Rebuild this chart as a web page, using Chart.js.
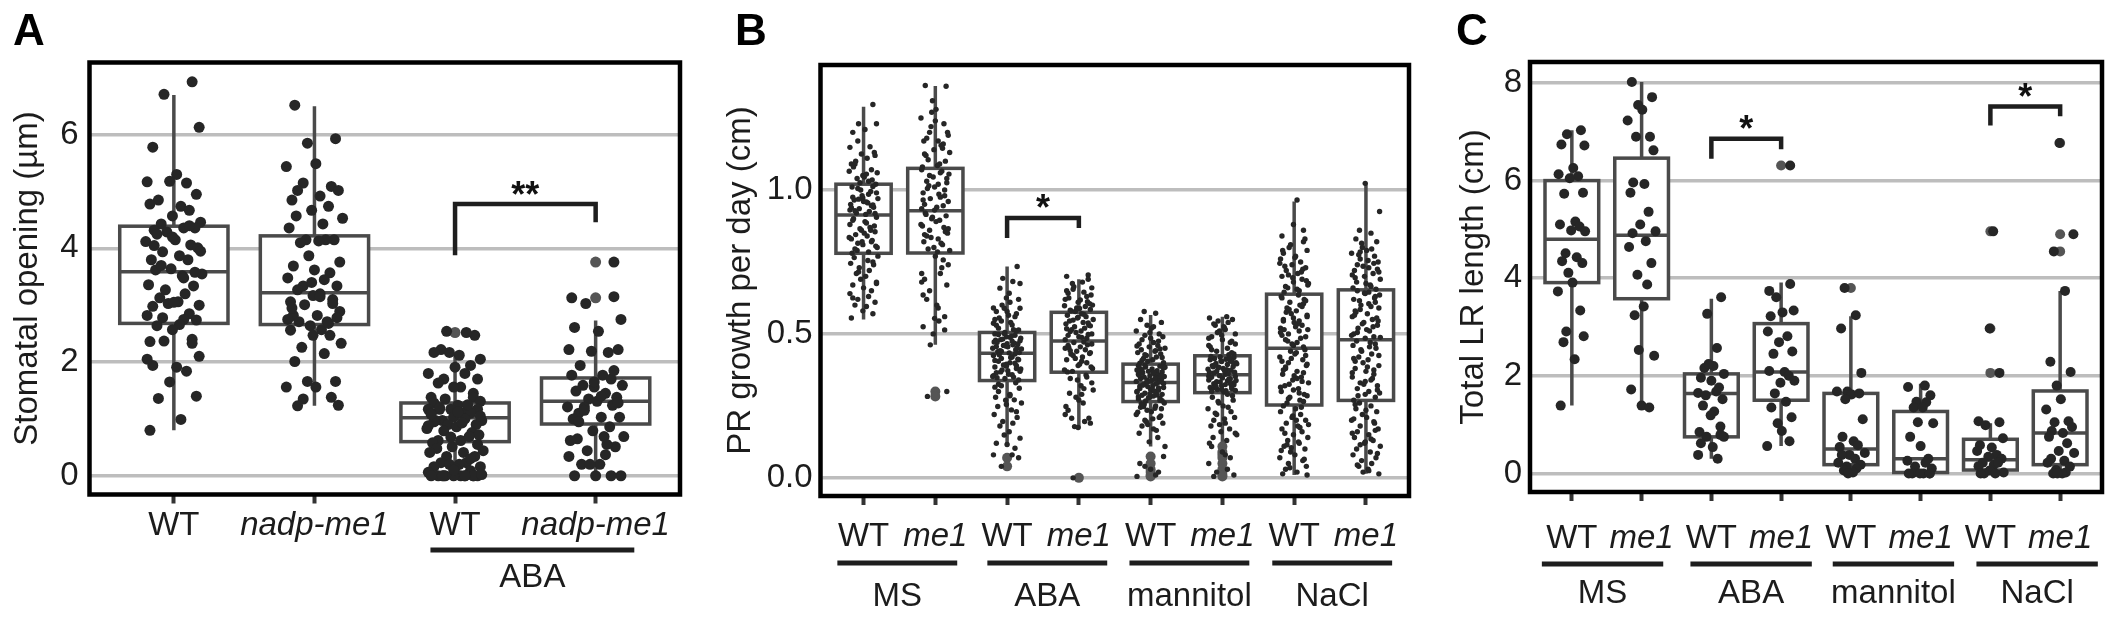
<!DOCTYPE html>
<html>
<head>
<meta charset="utf-8">
<script src="https://cdn.jsdelivr.net/npm/chart.js@4.4.1/dist/chart.umd.min.js"></script>
<style>
  body { margin: 0; background: #fff; width: 2119px; height: 620px; position: relative; overflow: hidden; }
  canvas { position: absolute; top: 0; }
</style>
</head>
<body>
<canvas id="chartA" width="700" height="620" style="left:0px"></canvas>
<canvas id="chartB" width="720" height="620" style="left:700px"></canvas>
<canvas id="chartC" width="699" height="620" style="left:1420px"></canvas>
<script>
// ---------- panel A : stomatal opening ----------
const catsA = ['WT', 'nadp-me1', 'WT', 'nadp-me1'];
const groupsA = ['ABA'];
const yTicksA = [0, 2, 4, 6];

const openWT = [6.93, 6.71, 6.13, 5.78, 5.30, 5.17, 5.15, 5.18, 4.95, 4.85, 4.74, 4.78, 4.67, 4.57, 4.46, 4.43, 4.36, 4.32, 4.36, 4.29, 4.15, 4.12, 4.06, 3.94, 4.01, 4.25, 3.87, 3.80, 3.80, 3.64, 3.55, 3.62, 3.52, 3.36, 3.34, 3.27, 3.20, 3.13, 3.06, 3.03, 3.00, 2.98, 3.05, 2.85, 2.82, 2.75, 2.78, 2.74, 2.64, 2.66, 2.57, 2.40, 2.36, 2.33, 2.37, 2.10, 1.94, 1.91, 2.05, 1.84, 1.65, 1.40, 1.36, 0.99, 0.80, 4.40, 4.20, 3.95, 3.70, 3.48, 4.05, 3.58];
const openMe1 = [6.52, 5.93, 5.85, 5.49, 5.44, 5.09, 5.15, 5.02, 5.02, 4.92, 4.85, 4.74, 4.67, 4.53, 4.57, 4.43, 4.36, 4.15, 4.15, 4.15, 4.10, 4.13, 3.87, 3.76, 3.69, 3.62, 3.57, 3.48, 3.45, 3.34, 3.34, 3.27, 3.20, 3.17, 3.10, 3.06, 3.03, 3.01, 2.89, 2.82, 2.82, 2.75, 2.71, 2.64, 2.78, 2.71, 2.57, 2.56, 2.47, 2.47, 2.33, 2.26, 2.15, 2.01, 1.66, 1.66, 1.56, 1.56, 1.38, 1.35, 1.24, 1.23, 3.15, 2.95, 2.68, 3.40];
const openWTaba = [2.47, 2.54, 2.52, 2.22, 2.12, 2.17, 2.05, 2.17, 1.91, 1.94, 1.80, 1.80, 1.70, 1.70, 1.63, 1.56, 1.56, 1.45, 1.38, 1.38, 1.35, 1.31, 1.28, 1.24, 1.17, 1.17, 1.17, 1.17, 1.17, 1.10, 1.10, 1.10, 1.03, 0.97, 0.97, 1.00, 0.97, 0.90, 0.90, 0.86, 0.83, 0.76, 0.79, 0.72, 0.62, 0.62, 0.58, 0.69, 0.51, 0.44, 0.48, 0.41, 0.41, 0.34, 0.34, 0.23, 0.23, 0.20, 0.20, 0.16, 0.16, 0.13, 0.09, 0.06, 0, 0, 0, 0, 0, 0, 0, 0, 0, 0, 1.05, 0.95, 1.12, 0.88, 1.25, 0.68, 0.55, 1.20, 0.93, 1.08, 0.30, 0.10, 0.02, 0, 0];
const openMe1aba = [3.76, 3.13, 3.15, 3.03, 2.75, 2.61, 2.54, 2.22, 2.17, 2.19, 2.22, 1.94, 1.77, 1.77, 1.70, 1.56, 1.59, 1.59, 1.45, 1.49, 1.38, 1.35, 1.31, 1.21, 1.24, 1.21, 1.03, 1.10, 1.03, 1.00, 0.86, 0.79, 0.69, 0.65, 0.69, 0.62, 0.51, 0.44, 0.55, 0.20, 0.20, 0.20, 0, 0, 0, 0, 0.34, 0.37, 1.15, 1.28, 0.95, 1.40, 1.65, 1.85];

const q1A  = [2.68, 2.66, 0.60, 0.91];
const medA = [3.59, 3.22, 1.02, 1.31];
const q3A  = [4.39, 4.22, 1.28, 1.72];
const loA  = [0.80, 1.23, 0, 0];
const hiA  = [6.70, 6.50, 2.15, 2.73];
const outA = [[], [], [2.52], [3.76, 3.13]];
// from, to, bar top, left leg end, right leg end, label
const sigA = [[3, 4, 4.78, 3.88, 4.46, '**']];

// ---------- panel B : primary root growth ----------
const catsB = ['WT', 'me1', 'WT', 'me1', 'WT', 'me1', 'WT', 'me1'];
const groupsB = ['MS', 'ABA', 'mannitol', 'NaCl'];
const yTicksB = [0, 0.5, 1.0];

const prMS_WT = [1.297, 1.23, 1.23, 1.20, 1.21, 1.148, 1.15, 1.125, 1.12, 1.10, 1.11, 1.09, 1.07, 1.05, 1.06, 1.04, 1.03, 1.08, 1.13, 1.025, 1.045, 1.065, 1.035, 1.17, 1.02, 1.09, 1.055, 1.01, 0.995, 0.98, 0.97, 0.965, 0.955, 0.95, 0.94, 0.935, 0.925, 0.92, 0.915, 1.0, 0.99, 0.975, 0.96, 0.945, 0.93, 0.985, 1.005, 0.918, 0.928, 0.958, 0.972, 0.948, 0.938, 1.012, 0.968, 0.905, 0.895, 0.89, 0.88, 0.87, 0.86, 0.855, 0.845, 0.84, 0.83, 0.82, 0.81, 0.80, 0.79, 0.785, 0.9, 0.875, 0.865, 0.85, 0.835, 0.825, 0.815, 0.805, 0.795, 0.885, 0.78, 0.86, 0.82, 0.77, 0.765, 0.755, 0.745, 0.74, 0.73, 0.72, 0.71, 0.70, 0.69, 0.68, 0.67, 0.66, 0.65, 0.64, 0.63, 0.62, 0.61, 0.60, 0.595, 0.58, 0.57, 0.555, 0.75, 0.715, 0.675, 0.625];
const prMS_me1 = [1.363, 1.36, 1.27, 1.28, 1.25, 1.23, 1.20, 1.20, 1.18, 1.17, 1.17, 1.145, 1.14, 1.13, 1.12, 1.09, 1.08, 1.10, 1.22, 1.155, 1.105, 1.085, 1.31, 1.19, 1.125, 1.24, 1.16, 1.07, 1.06, 1.05, 1.04, 1.03, 1.02, 1.01, 1.0, 0.99, 0.98, 0.97, 0.96, 0.95, 0.94, 0.935, 1.065, 1.045, 1.025, 1.005, 0.985, 0.965, 0.945, 0.93, 1.055, 1.015, 0.975, 0.92, 0.91, 0.90, 0.89, 0.88, 0.87, 0.86, 0.85, 0.84, 0.83, 0.82, 0.81, 0.80, 0.79, 0.915, 0.895, 0.875, 0.855, 0.835, 0.815, 0.795, 0.785, 0.905, 0.865, 0.845, 0.77, 0.757, 0.71, 0.71, 0.65, 0.67, 0.62, 0.59, 0.554, 0.56, 0.525, 0.514, 0.462, 0.74, 0.69, 0.60, 0.68, 0.73, 0.50, 0.30, 0.283, 0.545, 0.635];
const prABA_WT = [0.734, 0.693, 0.682, 0.659, 0.641, 0.589, 0.589, 0.578, 0.578, 0.56, 0.537, 0.531, 0.545, 0.514, 0.52, 0.61, 0.625, 0.57, 0.55, 0.51, 0.60, 0.675, 0.53, 0.565, 0.59, 0.515, 0.505, 0.62, 0.555, 0.54, 0.50, 0.495, 0.49, 0.485, 0.48, 0.475, 0.47, 0.465, 0.46, 0.455, 0.45, 0.445, 0.44, 0.435, 0.498, 0.488, 0.478, 0.468, 0.458, 0.448, 0.438, 0.492, 0.472, 0.452, 0.482, 0.462, 0.442, 0.434, 0.501, 0.476, 0.456, 0.466, 0.43, 0.425, 0.42, 0.415, 0.41, 0.405, 0.40, 0.395, 0.39, 0.385, 0.38, 0.375, 0.37, 0.365, 0.36, 0.355, 0.35, 0.345, 0.34, 0.428, 0.418, 0.408, 0.398, 0.388, 0.378, 0.368, 0.358, 0.348, 0.412, 0.392, 0.372, 0.352, 0.33, 0.32, 0.311, 0.30, 0.29, 0.28, 0.271, 0.27, 0.26, 0.248, 0.236, 0.22, 0.21, 0.196, 0.19, 0.18, 0.16, 0.149, 0.138, 0.12, 0.116, 0.103, 0.08, 0.08, 0.04, 0.07, 0.325, 0.285, 0.255, 0.23, 0.315];
const prABA_me1 = [0.705, 0.70, 0.69, 0.664, 0.66, 0.641, 0.618, 0.62, 0.595, 0.59, 0.585, 0.58, 0.68, 0.65, 0.63, 0.61, 0.60, 0.675, 0.645, 0.625, 0.605, 0.578, 0.588, 0.598, 0.612, 0.655, 0.635, 0.582, 0.57, 0.565, 0.56, 0.555, 0.55, 0.545, 0.54, 0.535, 0.53, 0.525, 0.52, 0.515, 0.51, 0.505, 0.50, 0.495, 0.49, 0.485, 0.48, 0.568, 0.548, 0.528, 0.508, 0.488, 0.558, 0.538, 0.518, 0.498, 0.47, 0.465, 0.46, 0.455, 0.45, 0.445, 0.44, 0.435, 0.43, 0.42, 0.41, 0.40, 0.39, 0.38, 0.37, 0.472, 0.452, 0.432, 0.415, 0.395, 0.375, 0.462, 0.425, 0.385, 0.442, 0.405, 0.368, 0.357, 0.34, 0.305, 0.294, 0.26, 0.248, 0.207, 0.178, 0.196, 0.207, 0.32, 0.28, 0.33, 0.235, 0.27, 0.35, 0.22, 0.31, 0.0, 0.19, 0.345, 0.29, 0.175];
const prMan_WT = [0.578, 0.572, 0.55, 0.54, 0.53, 0.52, 0.51, 0.50, 0.495, 0.49, 0.48, 0.47, 0.465, 0.46, 0.455, 0.45, 0.445, 0.44, 0.435, 0.43, 0.425, 0.42, 0.415, 0.41, 0.405, 0.40, 0.398, 0.485, 0.475, 0.458, 0.442, 0.428, 0.418, 0.408, 0.525, 0.505, 0.448, 0.39, 0.388, 0.385, 0.382, 0.38, 0.378, 0.375, 0.372, 0.37, 0.368, 0.365, 0.362, 0.36, 0.358, 0.355, 0.352, 0.35, 0.348, 0.345, 0.342, 0.34, 0.338, 0.335, 0.333, 0.392, 0.386, 0.376, 0.366, 0.356, 0.346, 0.336, 0.384, 0.364, 0.344, 0.374, 0.354, 0.33, 0.327, 0.324, 0.32, 0.317, 0.314, 0.31, 0.307, 0.304, 0.30, 0.297, 0.294, 0.29, 0.287, 0.284, 0.28, 0.277, 0.274, 0.27, 0.267, 0.328, 0.318, 0.308, 0.298, 0.288, 0.278, 0.268, 0.322, 0.302, 0.282, 0.312, 0.292, 0.26, 0.255, 0.25, 0.245, 0.24, 0.235, 0.23, 0.22, 0.21, 0.20, 0.19, 0.18, 0.17, 0.155, 0.14, 0.125, 0.109, 0.258, 0.242, 0.228, 0.215, 0.195, 0.165, 0.248, 0.205, 0.185, 0.074, 0.05, 0.03, 0.02, 0.005, 0.01, 0.04];
const prMan_me1 = [0.56, 0.555, 0.55, 0.545, 0.54, 0.53, 0.52, 0.51, 0.50, 0.49, 0.48, 0.47, 0.46, 0.45, 0.44, 0.43, 0.535, 0.515, 0.495, 0.475, 0.455, 0.435, 0.505, 0.465, 0.445, 0.525, 0.485, 0.428, 0.42, 0.418, 0.415, 0.412, 0.41, 0.407, 0.404, 0.40, 0.397, 0.394, 0.39, 0.387, 0.384, 0.38, 0.377, 0.374, 0.37, 0.367, 0.364, 0.36, 0.422, 0.416, 0.406, 0.396, 0.386, 0.376, 0.366, 0.402, 0.382, 0.362, 0.392, 0.372, 0.355, 0.352, 0.35, 0.347, 0.344, 0.34, 0.337, 0.334, 0.33, 0.327, 0.324, 0.32, 0.317, 0.314, 0.31, 0.307, 0.304, 0.30, 0.298, 0.353, 0.343, 0.333, 0.323, 0.313, 0.303, 0.348, 0.328, 0.308, 0.338, 0.318, 0.29, 0.28, 0.27, 0.26, 0.25, 0.24, 0.23, 0.22, 0.21, 0.20, 0.19, 0.18, 0.17, 0.16, 0.15, 0.14, 0.13, 0.12, 0.285, 0.265, 0.245, 0.225, 0.205, 0.185, 0.155, 0.109, 0.09, 0.07, 0.05, 0.03, 0.02, 0.01, 0.005, 0.08];
const prNa_WT = [0.965, 0.88, 0.86, 0.84, 0.82, 0.80, 0.79, 0.78, 0.77, 0.76, 0.75, 0.74, 0.73, 0.72, 0.71, 0.70, 0.69, 0.68, 0.67, 0.66, 0.65, 0.645, 0.83, 0.81, 0.765, 0.745, 0.725, 0.705, 0.685, 0.665, 0.655, 0.79, 0.715, 0.695, 0.675, 0.735, 0.635, 0.63, 0.62, 0.61, 0.60, 0.59, 0.58, 0.57, 0.56, 0.55, 0.54, 0.53, 0.52, 0.51, 0.50, 0.49, 0.48, 0.47, 0.46, 0.455, 0.625, 0.605, 0.585, 0.565, 0.545, 0.525, 0.505, 0.485, 0.465, 0.615, 0.575, 0.535, 0.495, 0.595, 0.555, 0.515, 0.475, 0.545, 0.515, 0.445, 0.44, 0.43, 0.42, 0.41, 0.40, 0.39, 0.38, 0.37, 0.36, 0.35, 0.34, 0.33, 0.32, 0.31, 0.30, 0.29, 0.28, 0.27, 0.26, 0.435, 0.415, 0.395, 0.375, 0.355, 0.335, 0.315, 0.295, 0.275, 0.425, 0.385, 0.345, 0.305, 0.265, 0.405, 0.365, 0.325, 0.285, 0.25, 0.24, 0.23, 0.22, 0.21, 0.20, 0.19, 0.18, 0.17, 0.16, 0.15, 0.14, 0.13, 0.12, 0.11, 0.10, 0.09, 0.08, 0.07, 0.06, 0.05, 0.04, 0.03, 0.02, 0.014, 0.245, 0.215, 0.185, 0.155, 0.125, 0.095, 0.065, 0.035, 0.175, 0.115, 0.2, 0.105, 0.01];
const prNa_me1 = [1.023, 0.925, 0.86, 0.85, 0.83, 0.82, 0.80, 0.79, 0.78, 0.77, 0.76, 0.75, 0.74, 0.73, 0.72, 0.71, 0.70, 0.69, 0.68, 0.67, 0.66, 0.655, 0.815, 0.795, 0.775, 0.755, 0.735, 0.715, 0.695, 0.675, 0.745, 0.705, 0.665, 0.785, 0.725, 0.65, 0.645, 0.64, 0.63, 0.62, 0.61, 0.60, 0.59, 0.58, 0.57, 0.56, 0.55, 0.54, 0.53, 0.52, 0.51, 0.50, 0.49, 0.485, 0.635, 0.615, 0.595, 0.575, 0.555, 0.535, 0.515, 0.495, 0.625, 0.585, 0.545, 0.505, 0.605, 0.565, 0.525, 0.642, 0.488, 0.475, 0.47, 0.46, 0.45, 0.44, 0.43, 0.42, 0.41, 0.40, 0.39, 0.38, 0.37, 0.36, 0.35, 0.34, 0.33, 0.32, 0.31, 0.30, 0.29, 0.28, 0.27, 0.465, 0.445, 0.425, 0.405, 0.385, 0.365, 0.345, 0.325, 0.305, 0.285, 0.455, 0.415, 0.375, 0.335, 0.295, 0.26, 0.25, 0.24, 0.23, 0.22, 0.21, 0.20, 0.19, 0.18, 0.17, 0.16, 0.15, 0.14, 0.13, 0.12, 0.11, 0.10, 0.09, 0.08, 0.07, 0.06, 0.05, 0.04, 0.03, 0.02, 0.014, 0.255, 0.235, 0.195, 0.155, 0.135, 0.115, 0.085, 0.045, 0.025, 0.125, 0.165, 0.205];

const q1B  = [0.780, 0.781, 0.338, 0.367, 0.265, 0.296, 0.253, 0.269];
const medB = [0.913, 0.928, 0.433, 0.475, 0.331, 0.358, 0.450, 0.480];
const q3B  = [1.020, 1.075, 0.505, 0.575, 0.395, 0.424, 0.638, 0.653];
const loB  = [0.550, 0.462, 0.109, 0.172, 0.109, 0.120, 0.010, 0.014];
const hiB  = [1.289, 1.361, 0.734, 0.690, 0.566, 0.560, 0.960, 1.020];
const outB = [[], [0.30, 0.283], [0.07, 0.04], [0.0], [0.074, 0.05, 0.03, 0.02, 0.01, 0.005], [0.109, 0.09, 0.08, 0.07, 0.05, 0.03, 0.02, 0.01, 0.005], [], []];
const sigB = [[3, 4, 0.903, 0.833, 0.868, '*']];

// ---------- panel C : total lateral root length ----------
const catsC = catsB;
const groupsC = groupsB;
const yTicksC = [0, 2, 4, 6, 8];

const lrMS_WT = [7.03, 6.95, 6.72, 6.74, 6.26, 6.13, 6.09, 6.05, 5.75, 5.73, 5.16, 5.10, 5.06, 4.98, 4.96, 4.51, 4.43, 4.35, 4.31, 4.11, 3.91, 3.73, 3.34, 2.91, 2.81, 2.69, 2.34, 1.39];
const lrMS_me1 = [8.02, 7.71, 7.55, 7.45, 7.23, 6.90, 6.90, 6.62, 5.96, 5.93, 5.75, 5.36, 5.10, 4.96, 4.92, 4.76, 4.64, 4.31, 4.07, 3.87, 3.24, 3.42, 2.53, 2.41, 1.72, 1.39, 1.35];
const lrABA_WT = [3.61, 3.27, 2.57, 2.16, 2.20, 2.24, 2.04, 1.96, 1.90, 1.76, 1.65, 1.68, 1.60, 1.52, 1.39, 1.27, 1.19, 0.96, 0.85, 0.79, 0.75, 0.75, 0.62, 0.54, 0.38, 0.30];
const lrABA_me1 = [6.31, 3.74, 3.88, 3.61, 3.34, 3.22, 3.30, 2.91, 2.81, 2.69, 2.50, 2.45, 2.08, 2.10, 2.00, 1.86, 1.90, 1.64, 1.47, 1.35, 1.15, 1.03, 0.87, 0.56, 0.66];
const lrMan_WT = [3.80, 3.24, 2.97, 2.06, 1.68, 1.62, 1.68, 1.64, 1.52, 1.11, 0.75, 0.66, 0.54, 0.58, 0.38, 0.42, 0.38, 0.30, 0.22, 0.18, 0.14, 0.10, 0.06, 0.02, 0];
const lrMan_me1 = [1.80, 1.77, 1.60, 1.47, 1.46, 1.35, 1.35, 1.05, 1.03, 0.75, 0.56, 0.30, 0.26, 0.22, 0.14, 0.10, 0, 0, 0, 0, 0, 0];
const lrNa_WT = [4.96, 2.97, 2.06, 1.07, 1.05, 0.99, 0.72, 0.58, 0.53, 0.46, 0.38, 0.34, 0.30, 0.22, 0.18, 0.15, 0.22, 0.06, 0.02, 0, 0, 0];
const lrNa_me1 = [6.77, 4.90, 4.55, 3.74, 2.29, 2.08, 1.80, 1.52, 1.31, 1.07, 1.05, 0.95, 0.87, 0.83, 0.75, 0.62, 0.46, 0.42, 0.30, 0.26, 0.22, 0.14, 0.07, 0.02, 0, 0, 0];

const q1C  = [3.91, 3.58, 0.75, 1.50, 0.18, 0.02, 0.07, 0.18];
const medC = [4.80, 4.88, 1.64, 2.08, 0.50, 0.30, 0.28, 0.83];
const q3C  = [6.00, 6.46, 2.04, 3.07, 1.64, 1.27, 0.70, 1.69];
const loC  = [1.39, 1.33, 0.30, 0.56, 0, 0, 0, 0];
const hiC  = [7.03, 8.02, 3.58, 3.91, 3.22, 1.84, 1.03, 3.74];
const outC = [[], [], [], [6.31], [3.80], [], [4.96, 2.97, 2.06], [6.77, 4.90, 4.55]];
const sigC = [[3, 4, 6.86, 6.45, 6.64, '*'], [7, 8, 7.52, 7.13, 7.32, '*']];

// horizontal spread of the jittered dots (category units)
const JITTER = [0.13, -0.07, 0.18, -0.15, 0.02, -0.19, 0.09, -0.03, 0.16, -0.11, 0.05, -0.17, 0.11, -0.01, 0.19, -0.09, 0.07, -0.14, 0.15, -0.05, 0.01, -0.2, 0.12, -0.08, 0.17, -0.12, 0.04, -0.16, 0.1, -0.02, 0.2, -0.13, 0.06, -0.18, 0.14, -0.06, 0.08, -0.1, 0.03, -0.04, 0.18, -0.15, 0.0, 0.11, -0.19, 0.07, -0.08, 0.16, -0.12, 0.04, -0.01, 0.13, -0.17];
const BOX_HALF = 0.385;
const FONT = '"Liberation Sans", Arial, sans-serif';
const FS = 33;
const INK = '#1c1c1c';

Chart.defaults.font.family = FONT;
Chart.defaults.color = INK;

function jittered(groups) {
  const pts = [];
  groups.forEach((vals, g) => vals.forEach((v, i) => {
    pts.push({ x: g + 1 + JITTER[(i + g * 17) % JITTER.length], y: v });
  }));
  return pts;
}

function centred(groups) {
  const pts = [];
  groups.forEach((vals, g) => vals.forEach(v => pts.push({ x: g + 1, y: v })));
  return pts;
}

// boxes, frame, significance brackets, treatment bars and panel letter
function decor(p) {
  return {
    id: 'decor',
    beforeDatasetsDraw(chart) {
      const { ctx, scales: { x, y } } = chart;
      const hw = x.getPixelForValue(1 + BOX_HALF) - x.getPixelForValue(1);
      ctx.save();
      ctx.strokeStyle = '#4a4a4a';
      ctx.lineWidth = 3.5;
      p.q1.forEach((q1, i) => {
        const cx = x.getPixelForValue(i + 1);
        const top = y.getPixelForValue(p.q3[i]);
        const bot = y.getPixelForValue(q1);
        ctx.beginPath();
        ctx.moveTo(cx, y.getPixelForValue(p.hi[i]));
        ctx.lineTo(cx, top);
        ctx.moveTo(cx, bot);
        ctx.lineTo(cx, y.getPixelForValue(p.lo[i]));
        ctx.stroke();
        ctx.fillStyle = '#fff';
        ctx.fillRect(cx - hw, top, 2 * hw, bot - top);
        ctx.strokeRect(cx - hw, top, 2 * hw, bot - top);
        const m = y.getPixelForValue(p.med[i]);
        ctx.beginPath();
        ctx.moveTo(cx - hw, m);
        ctx.lineTo(cx + hw, m);
        ctx.stroke();
      });
      ctx.restore();
    },
    afterDraw(chart) {
      const { ctx, chartArea: a, scales: { x, y } } = chart;
      ctx.save();
      ctx.strokeStyle = '#000';
      ctx.lineWidth = 4.5;
      ctx.strokeRect(a.left, a.top, a.right - a.left, a.bottom - a.top);

      ctx.strokeStyle = '#1e1e1e';
      ctx.fillStyle = '#111';
      ctx.lineWidth = 4.5;
      ctx.textAlign = 'center';
      ctx.textBaseline = 'alphabetic';
      ctx.font = 'bold 36px ' + FONT;
      p.sig.forEach(([from, to, top, left, right, label]) => {
        const x1 = x.getPixelForValue(from), x2 = x.getPixelForValue(to);
        const yt = y.getPixelForValue(top);
        ctx.beginPath();
        ctx.moveTo(x1, y.getPixelForValue(left));
        ctx.lineTo(x1, yt);
        ctx.lineTo(x2, yt);
        ctx.lineTo(x2, y.getPixelForValue(right));
        ctx.stroke();
        ctx.fillText(label, (x1 + x2) / 2, yt - 18 + 0.57 * 36);
      });

      ctx.font = FS + 'px ' + FONT;
      p.groups.forEach((label, k) => {
        const [c, w] = p.spans[k];
        const xc = x.getPixelForValue(c);
        const half = x.getPixelForValue(c + w / 2) - xc;
        ctx.fillStyle = '#1e1e1e';
        ctx.fillRect(xc - half, a.bottom + p.barDy - 2.5, 2 * half, 5);
        ctx.fillStyle = INK;
        ctx.fillText(label, xc, a.bottom + p.groupDy);
      });

      ctx.textAlign = 'left';
      ctx.fillStyle = '#000';
      ctx.font = 'bold 44px ' + FONT;
      ctx.fillText(p.letter, p.letterX, 45);
      ctx.restore();
    }
  };
}

function panel(id, p) {
  const canvas = document.getElementById(id);
  const W = canvas.width, H = canvas.height;
  return new Chart(canvas, {
    type: 'scatter',
    data: {
      datasets: [
        { data: jittered(p.points), pointRadius: p.r, pointHoverRadius: p.r, pointBackgroundColor: '#262626', pointBorderWidth: 0 },
        { data: centred(p.out), pointRadius: p.rOut, pointHoverRadius: p.rOut, pointBackgroundColor: '#555555', pointBorderWidth: 0 }
      ]
    },
    options: {
      responsive: false,
      animation: false,
      events: [],
      layout: { padding: { top: p.area.top, right: W - p.area.right, bottom: 0, left: 0 } },
      plugins: { legend: { display: false }, tooltip: { enabled: false } },
      scales: {
        x: {
          type: 'linear',
          min: 0.4,
          max: p.cats.length + 0.6,
          afterFit: s => { s.height = H - p.area.bottom; },
          afterBuildTicks: s => { s.ticks = p.cats.map((c, i) => ({ value: i + 1 })); },
          border: { display: false },
          grid: { drawOnChartArea: false, drawTicks: true, tickLength: 9, tickWidth: 4, tickColor: '#333' },
          ticks: {
            padding: p.xPad,
            autoSkip: false,
            maxRotation: 0,
            color: INK,
            callback: (v, i) => p.cats[i],
            font: ctx => ({ size: FS, lineHeight: 1, style: p.cats[ctx.index] === 'WT' ? 'normal' : 'italic' })
          }
        },
        y: {
          min: p.yMin,
          max: p.yMax,
          afterFit: s => { s.width = p.area.left; },
          afterBuildTicks: s => { s.ticks = p.yTicks.map(v => ({ value: v })); },
          border: { display: false },
          grid: { color: '#bdbdbd', lineWidth: 3.5, drawTicks: false },
          ticks: { padding: p.yPad, color: INK, font: { size: FS }, callback: v => p.fmt(v) },
          title: { display: true, text: p.title, color: INK, font: { size: FS, lineHeight: 1 }, padding: { top: p.titlePad, bottom: 0 } }
        }
      }
    },
    plugins: [decor(p)]
  });
}

panel('chartA', {
  letter: 'A', letterX: 13,
  cats: catsA, groups: groupsA, spans: [[3.55, 1.45]],
  points: [openWT, openMe1, openWTaba, openMe1aba], out: outA,
  q1: q1A, med: medA, q3: q3A, lo: loA, hi: hiA, sig: sigA,
  yMin: -0.33, yMax: 7.27, yTicks: yTicksA, fmt: v => String(v),
  title: 'Stomatal opening (µm)',
  area: { left: 89.5, right: 680, top: 62.5, bottom: 494.5 },
  r: 5.5, rOut: 5.5, xPad: 6, yPad: 11, titlePad: 11, barDy: 55.5, groupDy: 92.5
});

panel('chartB', {
  letter: 'B', letterX: 35,
  cats: catsB, groups: groupsB, spans: [[1.47, 1.67], [3.56, 1.67], [5.54, 1.67], [7.53, 1.67]],
  points: [prMS_WT, prMS_me1, prABA_WT, prABA_me1, prMan_WT, prMan_me1, prNa_WT, prNa_me1], out: outB,
  q1: q1B, med: medB, q3: q3B, lo: loB, hi: hiB, sig: sigB,
  yMin: -0.063, yMax: 1.434, yTicks: yTicksB, fmt: v => v.toFixed(1),
  title: 'PR growth per day (cm)',
  area: { left: 120.5, right: 709, top: 65, bottom: 496 },
  r: 2.7, rOut: 5, xPad: 15.5, yPad: 8, titlePad: 24, barDy: 67, groupDy: 110
});

panel('chartC', {
  letter: 'C', letterX: 36,
  cats: catsC, groups: groupsC, spans: [[1.44, 1.74], [3.57, 1.74], [5.61, 1.74], [7.67, 1.74]],
  points: [lrMS_WT, lrMS_me1, lrABA_WT, lrABA_me1, lrMan_WT, lrMan_me1, lrNa_WT, lrNa_me1], out: outC,
  q1: q1C, med: medC, q3: q3C, lo: loC, hi: hiC, sig: sigC,
  yMin: -0.38, yMax: 8.43, yTicks: yTicksC, fmt: v => String(v),
  title: 'Total LR length (cm)',
  area: { left: 110, right: 682, top: 62, bottom: 492 },
  r: 5, rOut: 5, xPad: 21.5, yPad: 8, titlePad: 37, barDy: 72, groupDy: 111
});
</script>
</body>
</html>
